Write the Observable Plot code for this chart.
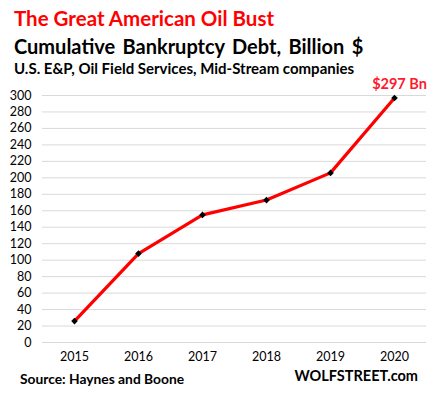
<!DOCTYPE html>
<html>
<head>
<meta charset="utf-8">
<script src="https://cdn.jsdelivr.net/npm/d3@7"></script>
<script src="https://cdn.jsdelivr.net/npm/@observablehq/plot@0.6"></script>
<style>
  html, body { margin: 0; padding: 0; background: #fff; }
  #wrap { position: relative; width: 433px; height: 396px; overflow: hidden; font-family: Lato, "Open Sans", sans-serif; }
  .t { position: absolute; white-space: nowrap; font-weight: bold; line-height: 1; }
</style>
</head>
<body>
<div id="wrap">
  <div class="t" id="title" style="left:14px; top:8px; font-size:20.5px; color:#ff0000;">The Great American Oil Bust</div>
  <div class="t" id="sub" style="left:14px; top:36px; font-size:20px; color:#000; word-spacing:2.5px;">Cumulative Bankruptcy Debt, Billion $</div>
  <div class="t" id="sub2" style="left:14px; top:61px; font-size:15px; color:#000;">U.S. E&amp;P, Oil Field Services, Mid-Stream companies</div>
  <div class="t" id="src" style="left:20px; top:372px; font-size:13.8px; color:#000;">Source: Haynes and Boone</div>
  <div class="t" id="ws" style="right:15px; top:369px; font-size:14.5px; color:#000;">WOLFSTREET.com</div>
</div>
<script>
const years = ["2015", "2016", "2017", "2018", "2019", "2020"];
const debt = [26, 108, 155, 173, 206, 297];
const yTicks = [0, 20, 40, 60, 80, 100, 120, 140, 160, 180, 200, 220, 240, 260, 280, 300];
const endLabel = "$297 Bn";

const data = years.map((y, i) => ({year: y, value: debt[i]}));
const last = data[data.length - 1];

const chart = Plot.plot({
  width: 433,
  height: 396,
  marginLeft: 42,
  marginRight: 7,
  marginTop: 95,
  marginBottom: 54,
  style: {fontFamily: "Lato, 'Open Sans', sans-serif", fontSize: "12.5px", color: "#000", background: "transparent"},
  x: {type: "point", domain: years, padding: 0.5, label: null},
  y: {domain: [0, 300], label: null},
  marks: [
    Plot.ruleY(yTicks, {stroke: "#d9d9d9", strokeWidth: 1}),
    Plot.axisY({ticks: yTicks, tickSize: 0, tickPadding: 11, label: null, fontSize: 12.5}),
    Plot.axisX({tickSize: 0, tickPadding: 10, label: null, fontSize: 12.5}),
    Plot.line(data, {x: "year", y: "value", stroke: "#ff0000", strokeWidth: 3.2}),
    Plot.dot(data, {x: "year", y: "value", symbol: "diamond2", r: 3, fill: "#000", stroke: "none"}),
    Plot.text([last], {x: "year", y: "value", text: () => endLabel, dy: -14, dx: 5, fill: "#ff1a2e", fontWeight: "bold", fontSize: 14.5})
  ]
});
chart.style.position = "absolute";
chart.style.left = "0";
chart.style.top = "0";
document.getElementById("wrap").prepend(chart);
</script>
</body>
</html>
